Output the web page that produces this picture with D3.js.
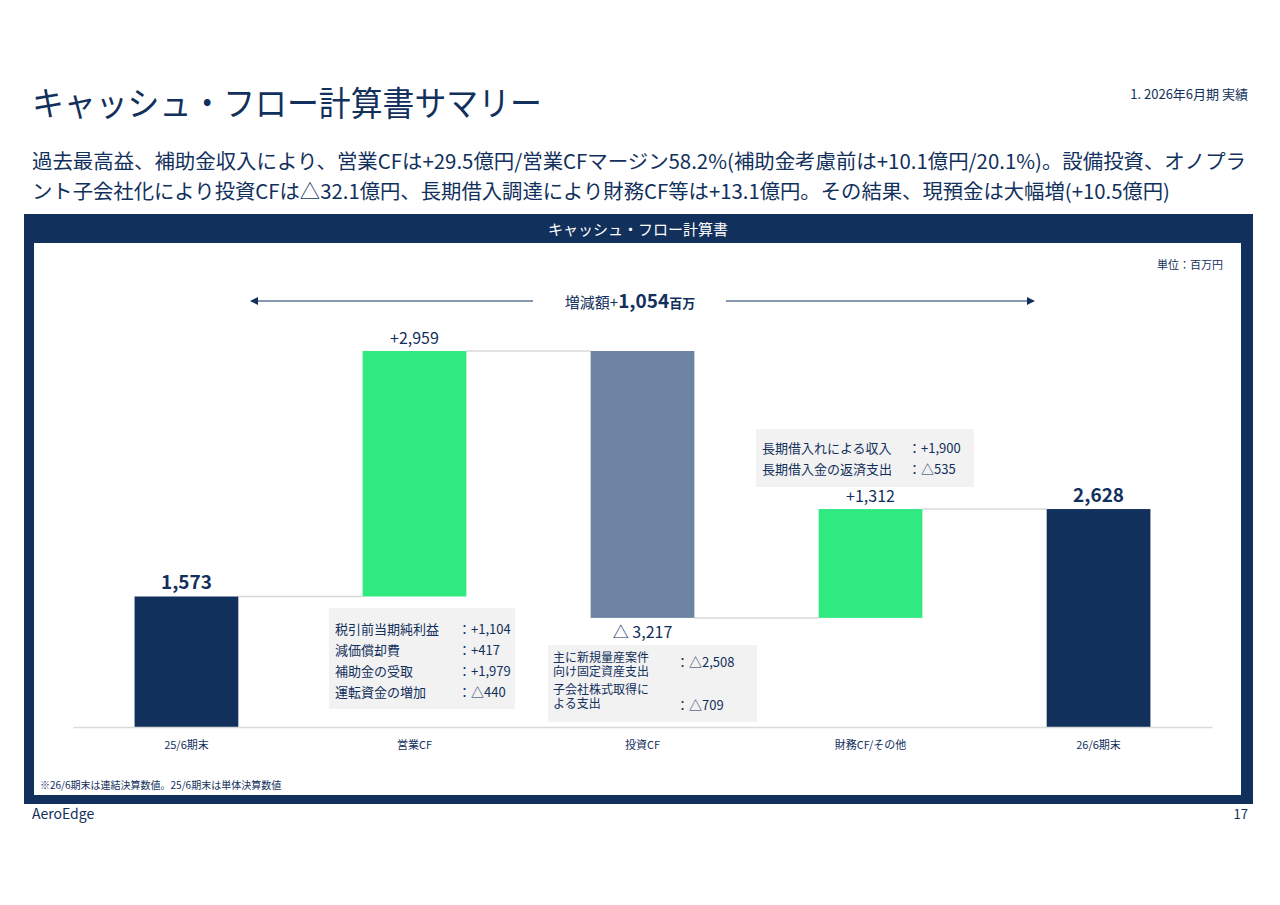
<!DOCTYPE html>
<html><head><meta charset="utf-8">
<script src="https://cdn.jsdelivr.net/npm/d3@7"></script>
<style>
body{margin:0;background:#fff;font-family:"Noto Sans CJK JP","Noto Sans",sans-serif;}
</style></head><body>
<svg id="c" width="1280" height="905"></svg>
<script>
// data
var categories = ['25/6期末', '営業CF', '投資CF', '財務CF/その他', '26/6期末'];
var deltas = [1573, 2959, -3217, 1312, null];
var topLabels = ['1,573', '+2,959', '△ 3,217', '+1,312', '2,628'];
var opDetail = [['税引前当期純利益', '：+1,104'], ['減価償却費', '：+417'], ['補助金の受取', '：+1,979'], ['運転資金の増加', '：△440']];
var invDetail = [[['主に新規量産案件', '向け固定資産支出'], '：△2,508'], [['子会社株式取得に', 'よる支出'], '：△709']];
var finDetail = [['長期借入れによる収入', '：+1,900'], ['長期借入金の返済支出', '：△535']];

var navy = '#12305c', green = '#31e981', slate = '#6e84a3', grey = '#f2f2f2';
var svg = d3.select('#c');
var font = '"Noto Sans CJK JP","Noto Sans",sans-serif';

// waterfall steps
var bars = [], run = 0;
deltas.forEach(function(d, i) {
  if (i === 0) { bars.push({y0: 0, y1: d}); run = d; }
  else if (d === null) { bars.push({y0: 0, y1: run}); }
  else { bars.push({y0: run, y1: run + d}); run += d; }
});
var fills = [navy, green, slate, green, navy];

// header text
svg.append('text').attr('x', 32).attr('y', 116).attr('font-size', 34).attr('fill', navy).attr('font-family', font)
  .attr('textLength', 510).attr('lengthAdjust', 'spacingAndGlyphs').text('キャッシュ・フロー計算書サマリー');
svg.append('text').attr('x', 1248).attr('y', 99).attr('text-anchor', 'end').attr('font-size', 13).attr('fill', navy).attr('font-family', font).text('1. 2026年6月期 実績');
svg.append('text').attr('x', 32).attr('y', 169).attr('font-size', 20).attr('fill', navy).attr('font-family', font)
  .attr('textLength', 1214).attr('lengthAdjust', 'spacingAndGlyphs')
  .text('過去最高益、補助金収入により、営業CFは+29.5億円/営業CFマージン58.2%(補助金考慮前は+10.1億円/20.1%)。設備投資、オノプラ');
svg.append('text').attr('x', 32).attr('y', 199).attr('font-size', 20).attr('fill', navy).attr('font-family', font)
  .attr('textLength', 1138).attr('lengthAdjust', 'spacingAndGlyphs')
  .text('ント子会社化により投資CFは△32.1億円、長期借入調達により財務CF等は+13.1億円。その結果、現預金は大幅増(+10.5億円)');

// frame
svg.append('rect').attr('x', 24).attr('y', 214).attr('width', 1229).attr('height', 590).attr('fill', navy);
svg.append('rect').attr('x', 34).attr('y', 243).attr('width', 1207).attr('height', 552).attr('fill', '#fff');
svg.append('text').attr('x', 638).attr('y', 235).attr('text-anchor', 'middle').attr('font-size', 15).attr('fill', '#fff').attr('font-family', font).text('キャッシュ・フロー計算書');
svg.append('text').attr('x', 1223).attr('y', 269).attr('text-anchor', 'end').attr('font-size', 11).attr('fill', navy).attr('font-family', font).text('単位：百万円');
svg.append('text').attr('x', 40).attr('y', 789).attr('font-size', 10).attr('fill', navy).attr('font-family', font).text('※26/6期末は連結決算数値。25/6期末は単体決算数値');
svg.append('text').attr('x', 32).attr('y', 819).attr('font-size', 14).attr('fill', navy).attr('font-family', font).text('AeroEdge');
svg.append('text').attr('x', 1248).attr('y', 819).attr('text-anchor', 'end').attr('font-size', 13).attr('fill', navy).attr('font-family', font).text('17');

// scales
var x = d3.scaleBand().domain(categories).range([73, 1212]).paddingInner(0.545).paddingOuter(0.27);
var y = d3.scaleLinear().domain([0, 4532]).range([727, 351]);

var g = svg.append('g');
// connectors
bars.forEach(function(b, i) {
  if (i === bars.length - 1) return;
  g.append('line').attr('x1', x(categories[i]) + x.bandwidth()).attr('x2', x(categories[i + 1]))
    .attr('y1', y(b.y1)).attr('y2', y(b.y1)).attr('stroke', '#d9d9d9').attr('stroke-width', 1.5);
});
g.selectAll('rect.bar').data(bars).enter().append('rect')
  .attr('x', function(d, i) { return x(categories[i]); })
  .attr('width', x.bandwidth())
  .attr('y', function(d) { return y(Math.max(d.y0, d.y1)); })
  .attr('height', function(d) { return Math.abs(y(d.y0) - y(d.y1)); })
  .attr('fill', function(d, i) { return fills[i]; });

// axis
var ax = svg.append('g').attr('transform', 'translate(0,727)').call(d3.axisBottom(x).tickSize(0).tickPadding(14));
ax.select('.domain').attr('stroke', '#d9d9d9').attr('stroke-width', 1.5);
ax.selectAll('text').attr('font-size', 11).attr('fill', navy).attr('font-family', font);

// value labels
topLabels.forEach(function(t, i) {
  var b = bars[i], cx = x(categories[i]) + x.bandwidth() / 2;
  var neg = b.y1 < b.y0;
  var total = i === 0 || i === 4;
  svg.append('text').attr('x', cx)
    .attr('y', neg ? y(b.y1) + 20 : y(Math.max(b.y0, b.y1)) - 7)
    .attr('text-anchor', 'middle').attr('font-size', total ? 19 : 16)
    .attr('font-weight', total ? 700 : 400).attr('fill', navy).attr('font-family', font).text(t);
});

// change arrow
svg.append('defs').append('marker').attr('id', 'ah').attr('viewBox', '0 0 10 10').attr('refX', 9).attr('refY', 5)
  .attr('markerWidth', 8).attr('markerHeight', 8).attr('orient', 'auto-start-reverse')
  .append('path').attr('d', 'M0,0L10,5L0,10z').attr('fill', navy);
svg.append('line').attr('x1', 533).attr('x2', 251).attr('y1', 301).attr('y2', 301).attr('stroke', navy).attr('marker-end', 'url(#ah)');
svg.append('line').attr('x1', 726).attr('x2', 1034).attr('y1', 301).attr('y2', 301).attr('stroke', navy).attr('marker-end', 'url(#ah)');
var ct = svg.append('text').attr('x', 630).attr('y', 308).attr('text-anchor', 'middle').attr('fill', navy).attr('font-family', font);
ct.append('tspan').attr('font-size', 15).text('増減額+');
ct.append('tspan').attr('font-size', 19).attr('font-weight', 700).text('1,054');
ct.append('tspan').attr('font-size', 13).attr('font-weight', 700).text('百万');

// detail boxes
function box(x0, y0, w, h) { svg.append('rect').attr('x', x0).attr('y', y0).attr('width', w).attr('height', h).attr('fill', grey); }
function txt(x0, y0, s, fs) { svg.append('text').attr('x', x0).attr('y', y0).attr('font-size', fs || 13).attr('fill', navy).attr('font-family', font).text(s); }
box(329, 608, 186, 101);
opDetail.forEach(function(r, i) { txt(335, 634 + i * 21, r[0]); txt(458, 634 + i * 21, r[1]); });
box(548, 645, 209, 77);
invDetail.forEach(function(r, i) {
  var yb = 662 + i * 32;
  txt(553, yb, r[0][0], 12); txt(553, yb + 14, r[0][1], 12); txt(676, yb + (i ? 16 : 5), r[1]);
});
box(756, 429, 218, 58);
finDetail.forEach(function(r, i) { txt(762, 453 + i * 21, r[0]); txt(908, 453 + i * 21, r[1]); });
</script></body></html>
